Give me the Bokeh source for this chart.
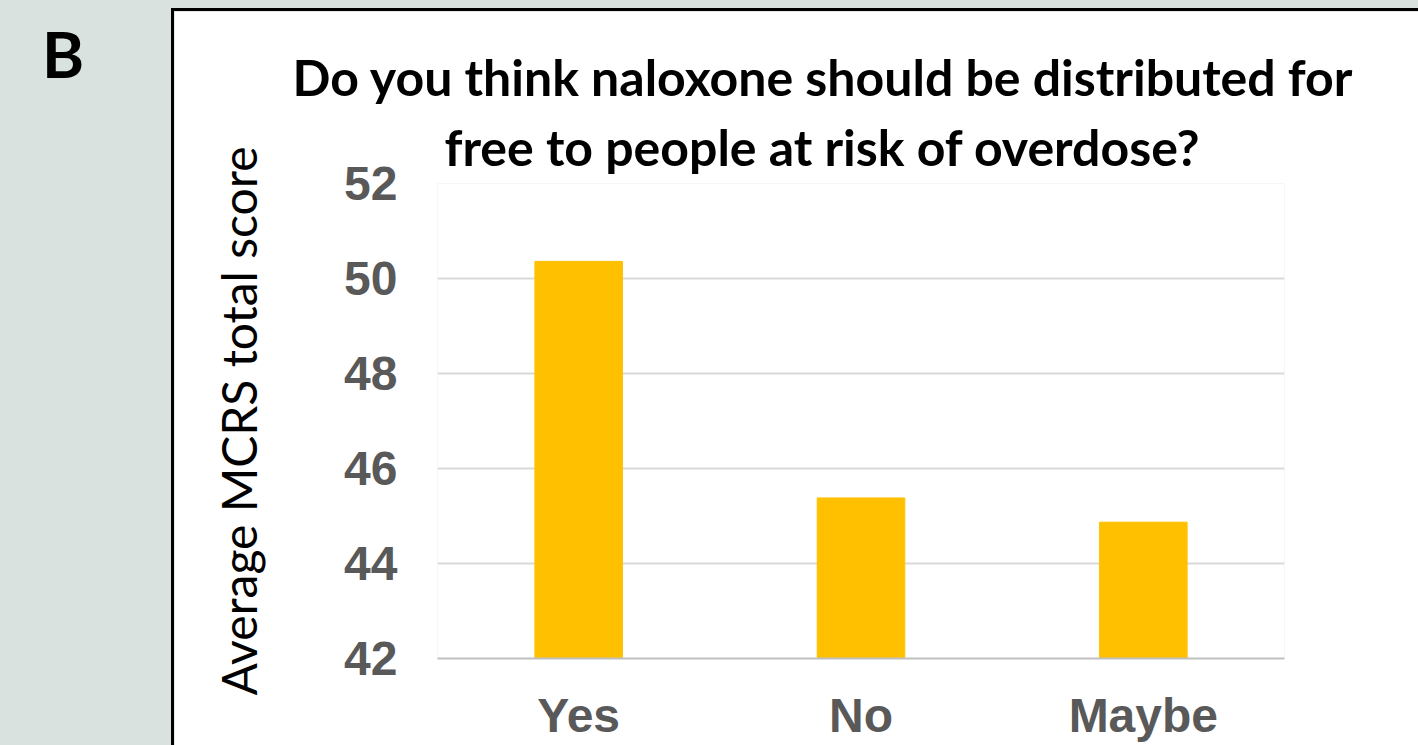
from bokeh.plotting import figure
from bokeh.models import FactorRange, Range1d, FixedTicker, Title, Div
from bokeh.layouts import row, column
from bokeh.embed import file_html
from bokeh.resources import INLINE

# ---- data ----
categories = ["Yes", "No", "Maybe"]
scores = [50.36, 45.38, 44.87]
y_ticks = [42, 44, 46, 48, 50, 52]
title_lines = ["Do you think naloxone should be distributed for",
               "free to people at risk of overdose?"]
panel_letter = "B"
y_label = "Average MCRS total score"

BG = "#d9e2df"
BAR = "#ffc000"
TICK = "#595959"

p = figure(width=1244, height=734,
           x_range=FactorRange(*categories), y_range=Range1d(42, 52),
           output_backend="svg", toolbar_location=None,
           min_border_left=263, min_border_right=134,
           min_border_top=172, min_border_bottom=87)

p.border_fill_color = "white"
p.background_fill_color = "white"
p.outline_line_color = None

p.vbar(x=categories, top=scores, bottom=42, width=0.31, color=BAR)

p.xgrid.visible = False
p.ygrid.ticker = FixedTicker(ticks=y_ticks)
p.ygrid.grid_line_color = "#d9d9d9"
p.ygrid.grid_line_width = 2

p.yaxis.ticker = FixedTicker(ticks=y_ticks)
p.yaxis.axis_line_color = None
p.yaxis.major_tick_line_color = None
p.yaxis.minor_tick_line_color = None
p.yaxis.major_tick_out = 0
p.yaxis.major_tick_in = 0
p.yaxis.major_label_text_font = "Liberation Sans"
p.yaxis.major_label_text_font_style = "bold"
p.yaxis.major_label_text_font_size = "48px"
p.yaxis.major_label_text_color = TICK
p.yaxis.major_label_standoff = 40
p.yaxis.axis_label = y_label
p.yaxis.axis_label_text_font = "Lato"
p.yaxis.axis_label_text_font_style = "normal"
p.yaxis.axis_label_text_font_size = "48px"
p.yaxis.axis_label_text_color = "black"
p.yaxis.axis_label_standoff = 74

p.xaxis.axis_line_color = "#bfbfbf"
p.xaxis.axis_line_width = 2
p.xaxis.major_tick_line_color = None
p.xaxis.minor_tick_line_color = None
p.xaxis.major_tick_out = 0
p.xaxis.major_tick_in = 0
p.xaxis.major_label_text_font = "Liberation Sans"
p.xaxis.major_label_text_font_style = "bold"
p.xaxis.major_label_text_font_size = "48px"
p.xaxis.major_label_text_color = TICK
p.xaxis.major_label_standoff = 30

# title: second line nearest to the frame, first line above it
title_offsets = [-145, 7]
title_standoffs = [2, 14]
for line, off, so in reversed(list(zip(title_lines, title_offsets, title_standoffs))):
    p.add_layout(Title(text=line, align="left", offset=off, text_font="Lato",
                       text_font_style="bold", text_font_size="50px",
                       text_color="black", standoff=so), "above")

letter = Div(text=panel_letter, width=171, height=745, margin=(0, 0, 0, 0),
             styles={"font-family": "Lato", "font-weight": "bold",
                     "font-size": "64px", "line-height": "1",
                     "color": "black", "padding-left": "42px",
                     "padding-top": "22px", "box-sizing": "border-box"})
top_border = Div(width=1247, height=3, margin=(0, 0, 0, 0),
                 styles={"background-color": "black"})
left_border = Div(width=3, height=734, margin=(0, 0, 0, 0),
                  styles={"background-color": "black"})

panel = column(top_border, row(left_border, p, spacing=0, margin=(0, 0, 0, 0)),
               spacing=0, margin=(8, 0, 0, 0))
root = row(letter, panel, spacing=0, width=1418, height=745, margin=(0, 0, 0, 0),
           styles={"background-color": BG})

open("out.html", "w").write(file_html(root, INLINE))
